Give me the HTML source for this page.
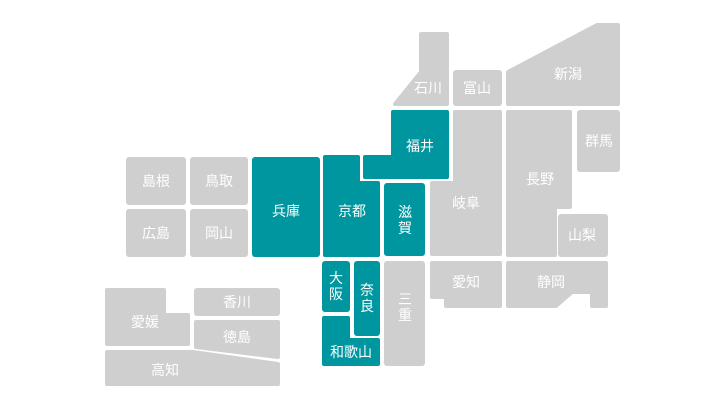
<!DOCTYPE html>
<html><head><meta charset="utf-8"><style>
html,body{margin:0;padding:0;background:#fff;}
svg{display:block}
text{font-family:"Liberation Sans","Noto Sans CJK JP",sans-serif;font-size:14px;fill:#fff;text-anchor:middle;dominant-baseline:central}
.g{fill:#cfcfcf}.t{fill:#0096a0}
.gp{fill:#cfcfcf;stroke:#cfcfcf;stroke-width:4;stroke-linejoin:round}
.tp{fill:#0096a0;stroke:#0096a0;stroke-width:4;stroke-linejoin:round}
</style></head><body>
<svg width="721" height="411" viewBox="0 0 721 411">
<polygon class="gp" points="421,34 447,34 447,104 395,104 421,72"/>
<text x="428" y="88">石川</text>
<rect class="g" x="453" y="70" width="49" height="36" rx="3"/><text x="477" y="88">富山</text>
<polygon class="gp" points="508,72 597,25 618,25 618,104 508,104"/>
<text x="568" y="74">新潟</text>
<polygon class="tp" points="393,112 447,112 447,177 365,177 365,157 393,157"/>
<text x="420" y="146">福井</text>
<rect class="g" x="577" y="110" width="43" height="62" rx="3"/><text x="599" y="141">群馬</text>
<polygon class="gp" points="508,112 570,112 570,207 555,207 555,255 508,255"/>
<text x="540" y="179">長野</text>
<polygon class="gp" points="455,112 500,112 500,254 432,254 432,183 455,183"/>
<text x="466" y="203">岐阜</text>
<rect class="t" x="384" y="183" width="41" height="73" rx="3"/><text x="405" y="212">滋</text><text x="405" y="228">賀</text>
<rect class="g" x="126" y="157" width="60" height="48" rx="3"/><text x="156" y="181">島根</text>
<rect class="g" x="190" y="157" width="58" height="48" rx="3"/><text x="219" y="181">鳥取</text>
<rect class="g" x="126" y="209" width="60" height="48" rx="3"/><text x="156" y="233">広島</text>
<rect class="g" x="190" y="209" width="58" height="48" rx="3"/><text x="219" y="233">岡山</text>
<rect class="t" x="252" y="157" width="68" height="100" rx="3"/><text x="286" y="211">兵庫</text>
<polygon class="tp" points="325,157 358,157 358,183 378,183 378,255 325,255"/>
<text x="352" y="211">京都</text>
<rect class="t" x="322" y="261" width="28" height="51" rx="3"/><text x="336" y="278">大</text><text x="336" y="294">阪</text>
<rect class="t" x="354" y="261" width="26" height="75" rx="3"/><text x="367" y="290">奈</text><text x="367" y="306">良</text>
<polygon class="tp" points="324,318 348,318 348,340 378,340 378,364 324,364"/>
<text x="351" y="352">和歌山</text>
<rect class="g" x="384" y="261" width="41" height="105" rx="3"/><text x="405" y="299">三</text><text x="405" y="315">重</text>
<polygon class="gp" points="107,290 164,290 164,315 188,315 188,344 107,344"/>
<text x="145" y="322">愛媛</text>
<rect class="g" x="194" y="288" width="86" height="28" rx="3"/><text x="237" y="302">香川</text>
<polygon class="gp" points="196,322 278,322 278,357 196,347"/>
<text x="237" y="337">徳島</text>
<polygon class="gp" points="107,352 193,352 278,364 278,384 107,384"/>
<text x="165" y="370">高知</text>
<rect class="g" x="558" y="214" width="50" height="43" rx="3"/><text x="582" y="235">山梨</text>
<polygon class="gp" points="432,263 500,263 500,306 446,306 446,297 432,297"/>
<text x="466" y="282">愛知</text>
<polygon class="gp" points="508,263 606,263 606,306 592,306 592,292 572,292 556,306 508,306"/>
<text x="551" y="282">静岡</text>
</svg>
</body></html>
